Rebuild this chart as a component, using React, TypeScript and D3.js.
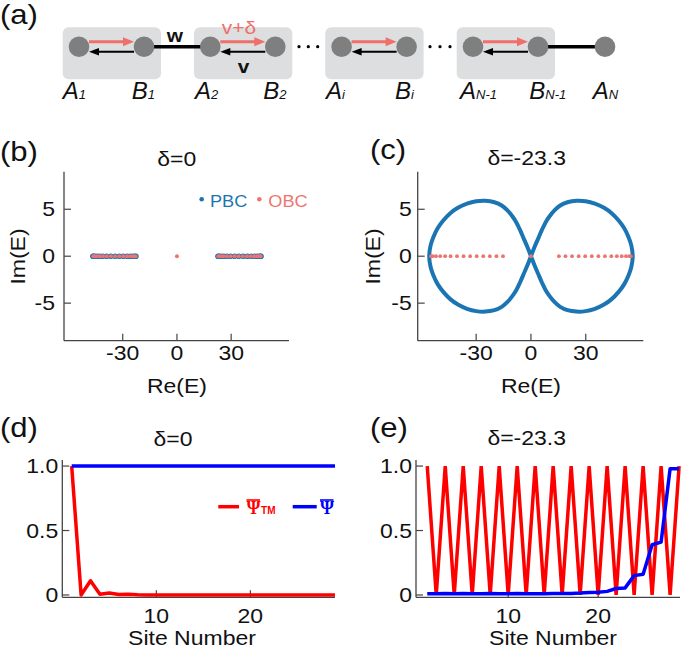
import React from 'react';
import * as d3 from 'd3';

// ---------- data ----------
const siteNumbers = [1,2,3,4,5,6,7,8,9,10,11,12,13,14,15,16,17,18,19,20,21,22,23,24,25,26,27,28,29];

// (b) delta = 0 : spectra (Im = 0)
const pbcReB = [-46.5,-46.2,-45.5,-44.4,-42.9,-41.0,-38.9,-36.6,-34.2,-31.9,-29.7,-27.6,-25.8,-24.3,-23.2,-22.7,
  22.7,23.2,24.3,25.8,27.6,29.7,31.9,34.2,36.6,38.9,41.0,42.9,44.4,45.5,46.2,46.5];
const obcReB = [-46.3,-45.6,-44.4,-42.8,-40.9,-38.8,-36.5,-34.2,-31.9,-29.7,-27.6,-25.7,-24.0,-22.9,0,
  22.9,24.0,25.7,27.6,29.7,31.9,34.2,36.5,38.8,40.9,42.8,44.4,45.6,46.3];

// (c) delta = -23.3 : PBC loop (Re, Im) and OBC (Im = 0)
const pbcReC = [
  0,2,4,6,8,10,13,16,20,25,30,35,40,44,48,51,53.5,55,55.7,
  55,53.5,51,48,44,40,35,30,25,20,16,13,10,8,6,4,2,0,
  -2,-4,-6,-8,-10,-13,-16,-20,-25,-30,-35,-40,-44,-48,-51,-53.5,-55,-55.7,
  -55,-53.5,-51,-48,-44,-40,-35,-30,-25,-20,-16,-13,-10,-8,-6,-4,-2,0];
const pbcImC = [
  0,1.0,1.9,2.8,3.6,4.2,4.9,5.4,5.75,5.9,5.85,5.6,5.15,4.6,3.8,3.0,2.0,1.1,0,
  -1.1,-2.0,-3.0,-3.8,-4.6,-5.15,-5.6,-5.85,-5.9,-5.75,-5.4,-4.9,-4.2,-3.6,-2.8,-1.9,-1.0,0,
  1.0,1.9,2.8,3.6,4.2,4.9,5.4,5.75,5.9,5.85,5.6,5.15,4.6,3.8,3.0,2.0,1.1,0,
  -1.1,-2.0,-3.0,-3.8,-4.6,-5.15,-5.6,-5.85,-5.9,-5.75,-5.4,-4.9,-4.2,-3.6,-2.8,-1.9,-1.0,0];
const obcReC = [-54.7,-53.7,-52.0,-49.7,-47.0,-44.0,-40.5,-36.9,-33.3,-29.7,-26.1,-22.5,-18.9,-15.3,0,
  15.3,18.9,22.5,26.1,29.7,33.3,36.9,40.5,44.0,47.0,49.7,52.0,53.7,54.7];

// (d) delta = 0
const psiTM_d = [1.0,0.0,0.11,0.005,0.015,0.003,0.005,0.001,0,0,0,0,0,0,0,0,0,0,0,0,0,0,0,0,0,0,0,0,0];
const psi_d = [1,1,1,1,1,1,1,1,1,1,1,1,1,1,1,1,1,1,1,1,1,1,1,1,1,1,1,1,1];
// (e) delta = -23.3
const psiTM_e = [1,0,1,0,1,0,1,0,1,0,1,0,1,0,1,0,1,0,1,0,1,0,1,0,1,0,1,0,1];
const psi_e = [0.01,0.01,0.012,0.01,0.012,0.01,0.01,0.012,0.01,0.01,0.012,0.01,0.01,0.01,0.012,0.012,0.012,0.015,0.02,0.022,0.028,0.05,0.055,0.15,0.16,0.39,0.41,0.98,0.98];

const specTicksX = [-30, 0, 30];
const specTicksY = [-5, 0, 5];
const siteTicksX = [10, 20];
const siteTicksY = [0, 0.5, 1.0];
const siteTickLabelsY = ['0', '0.5', '1.0'];

// ---------- style ----------
const FONT = '"Liberation Sans", Arial, Helvetica, sans-serif';
const SERIF = '"Liberation Serif", "Times New Roman", serif';
const SX = 1.15;
const BLUE_PBC = '#1b75b3';
const RED_OBC = '#ee7470';
const AXIS = '#444';

function T({ x, y, children, size = 20, anchor = 'middle', fill = '#111', rotate = 0, sx = SX, weight = 'normal', family = FONT, italic = false }: any) {
  return (
    <text
      transform={`translate(${x},${y})${rotate ? ` rotate(${rotate})` : ''} scale(${sx},1)`}
      textAnchor={anchor}
      fontSize={size}
      fontFamily={family}
      fontWeight={weight}
      fontStyle={italic ? 'italic' : 'normal'}
      fill={fill}
    >
      {children}
    </text>
  );
}

function Axes({ xs, ys, xTicks, yTicks, yLabels, yGap, xLabelY }: any) {
  const [x0, x1] = xs.range();
  const [y0, y1] = ys.range();
  return (
    <g>
      <line x1={x0} x2={x1} y1={y0} y2={y0} stroke={AXIS} strokeWidth={1.3} />
      <line x1={x0} x2={x0} y1={y0} y2={y1} stroke={AXIS} strokeWidth={1.3} />
      {xTicks.map((t: number) => (
        <g key={'x' + t}>
          <line x1={xs(t)} x2={xs(t)} y1={y0} y2={y0 - 7} stroke={AXIS} strokeWidth={1.2} />
          <T x={xs(t)} y={xLabelY}>{String(t)}</T>
        </g>
      ))}
      {yTicks.map((t: number, i: number) => (
        <g key={'y' + t}>
          <line x1={x0} x2={x0 + 7} y1={ys(t)} y2={ys(t)} stroke={AXIS} strokeWidth={1.2} />
          <T x={x0 - yGap} y={ys(t) + 7} anchor="end">{yLabels ? yLabels[i] : String(t)}</T>
        </g>
      ))}
    </g>
  );
}

function Diagram() {
  const boxX = [62.7, 194, 325.3, 456.7];
  const boxW = 98.3;
  const cy = 46.7;
  const red = '#ef6f6a';
  const A = boxX.map((b) => b + 16.3);
  const B = boxX.map((b) => b + 81.3);
  const AN = 605;
  const labels = [
    { t: 'A', s: '1', x: 62.7 }, { t: 'B', s: '1', x: 131.7 },
    { t: 'A', s: '2', x: 195 }, { t: 'B', s: '2', x: 263.3 },
    { t: 'A', s: 'i', x: 326 }, { t: 'B', s: 'i', x: 395 },
    { t: 'A', s: 'N-1', x: 460 }, { t: 'B', s: 'N-1', x: 529.3 },
    { t: 'A', s: 'N', x: 592.7 },
  ];
  return (
    <g>
      {boxX.map((b, i) => (
        <rect key={i} x={b} y={27.3} width={boxW} height={52} rx={6} fill="#dcdedf" />
      ))}
      <line x1={B[0]} x2={A[1]} y1={cy} y2={cy} stroke="#000" strokeWidth={3.5} />
      <line x1={B[3]} x2={AN} y1={cy} y2={cy} stroke="#000" strokeWidth={3.5} />
      {boxX.map((b, i) => (
        <g key={'ar' + i}>
          <line x1={A[i] + 10} x2={B[i] - 19} y1={41.7} y2={41.7} stroke={red} strokeWidth={3} />
          <polygon points={`${B[i] - 10},41.7 ${B[i] - 21},37.2 ${B[i] - 21},46.2`} fill={red} />
          <line x1={A[i] + 18} x2={B[i] - 10} y1={51.7} y2={51.7} stroke="#000" strokeWidth={2} />
          <polygon points={`${A[i] + 10},51.7 ${A[i] + 20},48 ${A[i] + 20},55.4`} fill="#000" />
        </g>
      ))}
      {[...A, ...B, AN].map((x, i) => (
        <circle key={'c' + i} cx={x} cy={cy} r={10.3} fill="#7f7f7f" />
      ))}
      {[299, 308.3, 317.7, 430, 440, 450].map((x, i) => (
        <circle key={'d' + i} cx={x} cy={cy} r={1.6} fill="#000" />
      ))}
      <T x={175} y={41.5} size={19} weight="bold" sx={1.1}>w</T>
      <T x={239} y={33.5} size={19} fill={red} sx={1.1}>v+δ</T>
      <T x={243.5} y={73} size={19} weight="bold" sx={1.1}>v</T>
      {labels.map((l, i) => (
        <text key={'l' + i} x={l.x} y={99} fontFamily={FONT} fontStyle="italic" fontSize={24} fill="#111">
          {l.t}
          <tspan fontSize={13}>{l.s}</tspan>
        </text>
      ))}
    </g>
  );
}

export default function App() {
  // (b)
  const xb = d3.scaleLinear().domain([-62.5, 62]).range([64, 289]);
  const yb = d3.scaleLinear().domain([-9, 9]).range([340.7, 171.7]);
  // (c)
  const xc = d3.scaleLinear().domain([-62, 61.5]).range([417.7, 643.3]);
  const yc = d3.scaleLinear().domain([-9, 9]).range([340.7, 171.7]);
  // (d)
  const xd = d3.scaleLinear().domain([0, 29]).range([62.3, 335]);
  const yd = d3.scaleLinear().domain([-0.018, 1.047]).range([597.3, 460]);
  // (e)
  const xe = d3.scaleLinear().domain([-0.25, 29.1]).range([416, 680]);
  const ye = d3.scaleLinear().domain([-0.018, 1.047]).range([597.3, 460]);

  const loopPts = pbcReC.map((r, i) => [r, pbcImC[i]] as [number, number]);
  const loopPath = d3.line<[number, number]>()
    .x((d) => xc(d[0]))
    .y((d) => yc(d[1]))
    .curve(d3.curveCatmullRom.alpha(0.5))(loopPts) || '';

  const lineD = (vals: number[]) => d3.line<number>().x((_, i) => xd(siteNumbers[i])).y((v) => yd(v))(vals) || '';
  const lineE = (vals: number[]) => d3.line<number>().x((_, i) => xe(siteNumbers[i])).y((v) => ye(v))(vals) || '';

  return (
    <svg width={685} height={650} style={{ position: 'absolute', left: 0, top: 0, background: '#fff' }}>
      <rect width={685} height={650} fill="#fff" />
      {/* panel labels */}
      <T x={0} y={24} size={27} anchor="start">(a)</T>
      <T x={0} y={161} size={27} anchor="start">(b)</T>
      <T x={370} y={159} size={27} anchor="start">(c)</T>
      <T x={0} y={437} size={27} anchor="start">(d)</T>
      <T x={370} y={437} size={27} anchor="start">(e)</T>

      <Diagram />

      {/* (b) */}
      <T x={176.7} y={166}>δ=0</T>
      <Axes xs={xb} ys={yb} xTicks={specTicksX} yTicks={specTicksY} yGap={9} xLabelY={360} />
      <T x={177} y={393}>Re(E)</T>
      <T x={25} y={256.5} rotate={-90}>Im(E)</T>
      {pbcReB.map((r, i) => (
        <circle key={'pb' + i} cx={xb(r)} cy={yb(0)} r={2.8} fill={BLUE_PBC} />
      ))}
      {obcReB.map((r, i) => (
        <circle key={'ob' + i} cx={xb(r)} cy={yb(0)} r={2} fill={RED_OBC} />
      ))}
      <circle cx={201.7} cy={199.3} r={2.3} fill={BLUE_PBC} />
      <T x={210} y={207.3} size={16.5} anchor="start" fill={BLUE_PBC} sx={1.1}>PBC</T>
      <circle cx={259.3} cy={199.3} r={2.3} fill={RED_OBC} />
      <T x={268.3} y={207.3} size={16.5} anchor="start" fill={RED_OBC} sx={1.1}>OBC</T>

      {/* (c) */}
      <T x={526.7} y={165}>δ=-23.3</T>
      <Axes xs={xc} ys={yc} xTicks={specTicksX} yTicks={specTicksY} yGap={6} xLabelY={360} />
      <T x={531} y={393}>Re(E)</T>
      <T x={380} y={256.5} rotate={-90}>Im(E)</T>
      <path d={loopPath} fill="none" stroke={BLUE_PBC} strokeWidth={4} strokeLinejoin="round" />
      {obcReC.map((r, i) => (
        <circle key={'oc' + i} cx={xc(r)} cy={yc(0)} r={1.9} fill={RED_OBC} />
      ))}

      {/* (d) */}
      <T x={173} y={446}>δ=0</T>
      <Axes xs={xd} ys={yd} xTicks={siteTicksX} yTicks={siteTicksY} yLabels={siteTickLabelsY} yGap={4} xLabelY={623} />
      <T x={192} y={645}>Site Number</T>
      <path d={lineD(psiTM_d)} fill="none" stroke="#ff0000" strokeWidth={3.5} strokeLinejoin="round" />
      <path d={lineD(psi_d)} fill="none" stroke="#0000ff" strokeWidth={3.5} />
      {/* legend */}
      <line x1={218.3} x2={239} y1={506.7} y2={506.7} stroke="#ff0000" strokeWidth={3.5} />
      <line x1={246.5} x2={260} y1={500} y2={500} stroke="#ff0000" strokeWidth={1.6} />
      <text x={246.5} y={514} fontFamily={SERIF} fontWeight="bold" fontSize={18} fill="#ff0000">
        Ψ<tspan fontFamily={FONT} fontWeight="bold" fontSize={10} dx={0.5}>TM</tspan>
      </text>
      <line x1={292.7} x2={316.7} y1={506.7} y2={506.7} stroke="#0000ff" strokeWidth={3.5} />
      <line x1={320} x2={333.5} y1={500} y2={500} stroke="#0000ff" strokeWidth={1.6} />
      <text x={320} y={514} fontFamily={SERIF} fontWeight="bold" fontSize={18} fill="#0000ff">Ψ</text>

      {/* (e) */}
      <T x={526.7} y={445}>δ=-23.3</T>
      <Axes xs={xe} ys={ye} xTicks={siteTicksX} yTicks={siteTicksY} yLabels={siteTickLabelsY} yGap={4} xLabelY={623} />
      <T x={553} y={645}>Site Number</T>
      <path d={lineE(psiTM_e)} fill="none" stroke="#ff0000" strokeWidth={3.5} strokeLinejoin="miter" />
      <path d={lineE(psi_e)} fill="none" stroke="#0000ff" strokeWidth={3.5} strokeLinejoin="round" />
    </svg>
  );
}
